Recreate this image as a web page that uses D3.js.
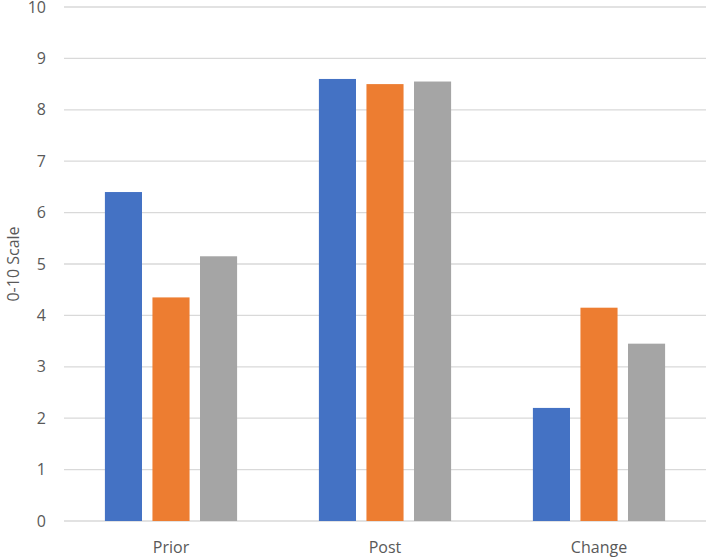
<!DOCTYPE html>
<html>
<head>
<meta charset="utf-8">
<script src="https://cdn.jsdelivr.net/npm/d3@7"></script>
<style>
  html, body { margin: 0; padding: 0; background: #fff; }
  text { font-family: "Open Sans", "Liberation Sans", sans-serif; fill: #595959; }
</style>
</head>
<body>
<svg id="chart" width="707" height="557"></svg>
<script>
'use strict';

// Data
var categories = ['Prior', 'Post', 'Change'];
var series = ['s1', 's2', 's3'];
var seriesColors = ['#4472C4', '#ED7D31', '#A5A5A5'];
var values = [
  [6.4, 4.35, 5.15],   // Prior
  [8.6, 8.5, 8.55],    // Post
  [2.2, 4.15, 3.45]    // Change
];
var yTicks = [0, 1, 2, 3, 4, 5, 6, 7, 8, 9, 10];
var yTitle = '0-10 Scale';

var svg = d3.select('#chart'),
  plotLeft = 64,
  plotRight = 706,
  plotTop = 7,
  plotBottom = 521;

// Scales
var y = d3.scaleLinear().domain([0, 10]).range([plotBottom, plotTop]);

var x0 = d3.scaleBand()
  .domain(categories)
  .range([plotLeft, plotRight])
  .padding(0);

var x1 = d3.scaleBand()
  .domain(series)
  .range([0, x0.bandwidth()])
  .paddingInner(0.22)
  .paddingOuter(0.86);

var color = d3.scaleOrdinal().domain(series).range(seriesColors);

// Gridlines
svg.append('g')
  .selectAll('line')
  .data(yTicks)
  .enter().append('line')
  .attr('x1', plotLeft)
  .attr('x2', plotRight)
  .attr('y1', function (d) { return y(d); })
  .attr('y2', function (d) { return y(d); })
  .style('stroke', '#D9D9D9')
  .style('stroke-width', 1.3);

// Y tick labels
svg.append('g')
  .selectAll('text')
  .data(yTicks)
  .enter().append('text')
  .attr('x', 46)
  .attr('y', function (d) { return y(d); })
  .attr('dy', '0.35em')
  .attr('text-anchor', 'end')
  .style('font-size', '16px')
  .text(String);

// Bars
var groups = svg.append('g')
  .selectAll('g')
  .data(values)
  .enter().append('g')
  .attr('transform', function (d, i) { return 'translate(' + x0(categories[i]) + ',0)'; });

groups.selectAll('rect')
  .data(function (d) { return d.map(function (v, j) { return {key: series[j], value: v}; }); })
  .enter().append('rect')
  .attr('x', function (d) { return x1(d.key); })
  .attr('y', function (d) { return y(d.value); })
  .attr('width', x1.bandwidth())
  .attr('height', function (d) { return y(0) - y(d.value); })
  .style('fill', function (d) { return color(d.key); });

// Category labels
svg.append('g')
  .selectAll('text')
  .data(categories)
  .enter().append('text')
  .attr('x', function (d) { return x0(d) + x0.bandwidth() / 2; })
  .attr('y', 547)
  .attr('dy', '0.35em')
  .attr('text-anchor', 'middle')
  .style('font-size', '16px')
  .text(String);

// Y axis title
svg.append('text')
  .attr('transform', 'translate(13,' + ((plotTop + plotBottom) / 2) + ') rotate(-90)')
  .attr('text-anchor', 'middle')
  .attr('dy', '0.35em')
  .style('font-size', '16px')
  .text(yTitle);
</script>
</body>
</html>
